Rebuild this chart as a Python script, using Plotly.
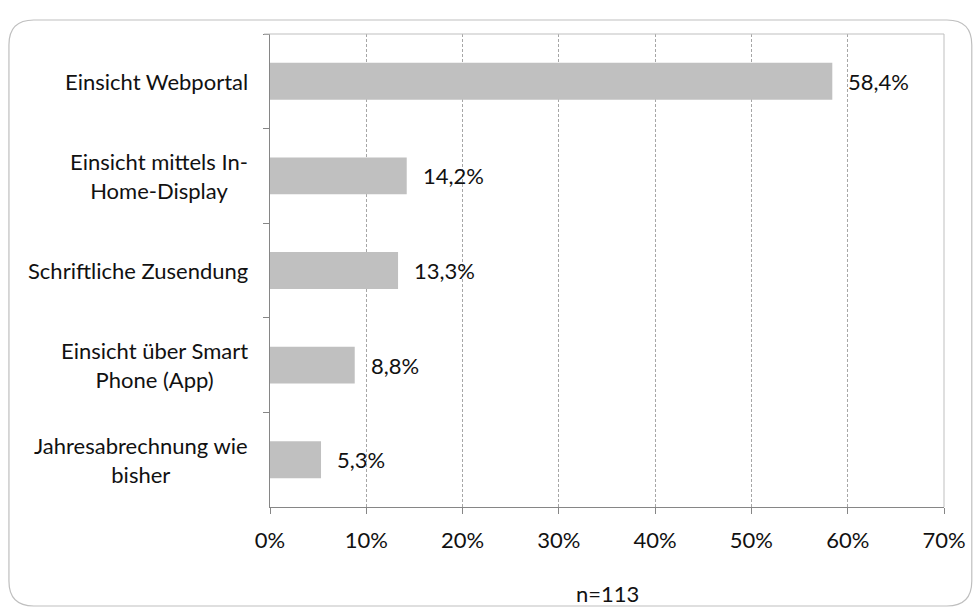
import plotly.graph_objects as go

# Survey answers, top to bottom
categories = [
    "Einsicht Webportal",
    "Einsicht mittels In-<br>Home-Display",
    "Schriftliche Zusendung",
    "Einsicht über Smart<br>Phone (App)",
    "Jahresabrechnung wie<br>bisher",
]
shares = [58.4, 14.2, 13.3, 8.8, 5.3]
value_labels = ["58,4%", "14,2%", "13,3%", "8,8%", "5,3%"]
x_ticks = [0, 10, 20, 30, 40, 50, 60, 70]
x_tick_labels = ["0%", "10%", "20%", "30%", "40%", "50%", "60%", "70%"]
sample_note = "n=113"

W, H = 978, 607
ML, MR, MT, MB = 270, 29, 34, 100
PW, PH = W - ML - MR, H - MT - MB

FONT = "Lato"
FS = 22
TEXT = "#111111"


def px_x(px):
    return (px - ML) / PW


def px_y(py):
    return (H - MB - py) / PH


fig = go.Figure()
fig.add_trace(go.Bar(
    y=categories,
    x=shares,
    orientation="h",
    marker=dict(color="#C0C0C0", line=dict(width=0)),
    hoverinfo="skip",
))

annotations = []
# category labels, lines centred like the spreadsheet layout
for cat in categories:
    annotations.append(dict(
        x=px_x(250), xref="paper", y=cat, yref="y",
        text=cat, showarrow=False, xanchor="right", yanchor="middle",
        align="center", font=dict(family=FONT, size=FS, color=TEXT),
    ))
# value labels next to each bar
for cat, val, lab in zip(categories, shares, value_labels):
    annotations.append(dict(
        x=val, xref="x", y=cat, yref="y", text=lab, showarrow=False,
        xanchor="left", yanchor="middle", xshift=14,
        font=dict(family=FONT, size=FS, color=TEXT),
    ))
annotations.append(dict(
    x=0.5, xref="paper", y=px_y(593), yref="paper", text=sample_note,
    showarrow=False, xanchor="center", yanchor="middle",
    font=dict(family=FONT, size=FS, color=TEXT),
))

# rounded frame around the chart
left, top, right, bottom, r = 7, 20, 977, 606, 25
path = (
    f"M {px_x(left)},{px_y(bottom - r)} "
    f"L {px_x(left)},{px_y(top + r)} "
    f"Q {px_x(left)},{px_y(top)} {px_x(left + r)},{px_y(top)} "
    f"L {px_x(right - r)},{px_y(top)} "
    f"Q {px_x(right)},{px_y(top)} {px_x(right)},{px_y(top + r)} "
    f"L {px_x(right)},{px_y(bottom - r)} "
    f"Q {px_x(right)},{px_y(bottom)} {px_x(right - r)},{px_y(bottom)} "
    f"L {px_x(left + r)},{px_y(bottom)} "
    f"Q {px_x(left)},{px_y(bottom)} {px_x(left)},{px_y(bottom - r)} Z"
)
shapes = [
    dict(type="path", path=path, xref="paper", yref="paper",
         line=dict(color="#BFBFBF", width=1.2), layer="below"),
    # plot area top and right edges
    dict(type="line", xref="paper", yref="paper", x0=px_x(ML - 6), x1=1, y0=1, y1=1,
         line=dict(color="#BFBFBF", width=1)),
    dict(type="line", xref="paper", yref="paper", x0=1, x1=1, y0=0, y1=1,
         line=dict(color="#BFBFBF", width=1)),
]

fig.update_layout(
    width=W, height=H,
    margin=dict(l=ML, r=MR, t=MT, b=MB),
    paper_bgcolor="white", plot_bgcolor="white",
    showlegend=False,
    bargap=0.61,
    annotations=annotations,
    shapes=shapes,
    font=dict(family=FONT, size=FS, color=TEXT),
)
fig.update_xaxes(
    range=[0, 70],
    tickvals=x_ticks, ticktext=x_tick_labels,
    showgrid=True, gridcolor="#A6A6A6", griddash="3px,2px", gridwidth=1,
    showline=True, linecolor="#868686", linewidth=1,
    ticks="outside", ticklen=6, tickcolor="#868686",
    ticklabelstandoff=8,
    tickfont=dict(family=FONT, size=FS, color=TEXT),
    zeroline=False, fixedrange=True,
)
fig.update_yaxes(
    autorange="reversed",
    showticklabels=False,
    showline=True, linecolor="#868686", linewidth=1,
    ticks="outside", tickson="boundaries", ticklen=6, tickcolor="#868686",
    showgrid=False, fixedrange=True,
)

fig.write_html("out.html")
